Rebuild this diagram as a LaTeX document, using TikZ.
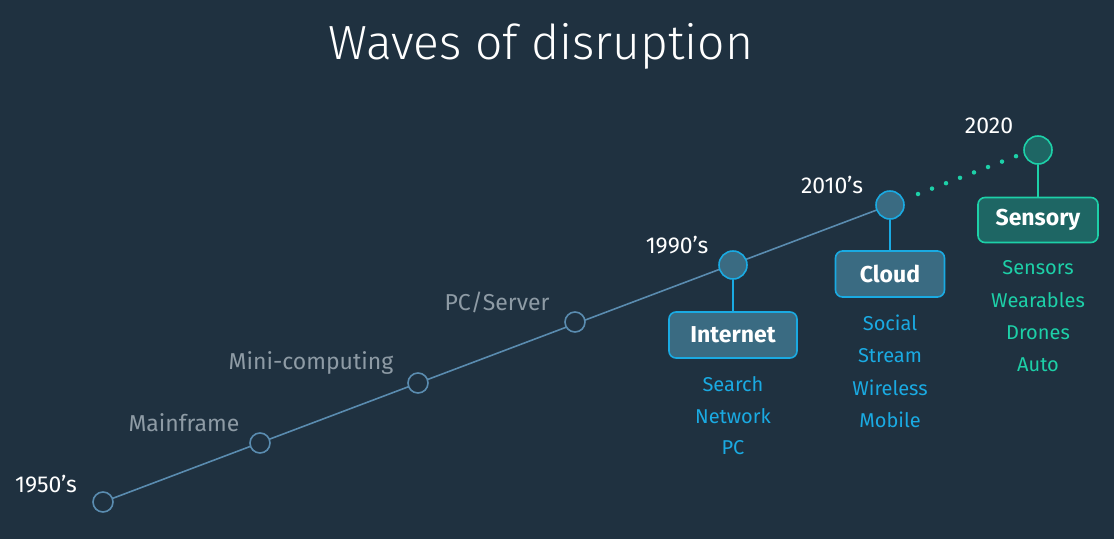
\documentclass[tikz,border=0pt]{standalone}
\usepackage{fontspec}
\setmainfont{Fira Sans}
\newfontfamily\titlefont{Fira Sans Light}
\definecolor{bg}{HTML}{1F3140}
\definecolor{linec}{HTML}{5A8CB0}
\definecolor{bluec}{HTML}{1AAAE2}
\definecolor{bluefill}{HTML}{3A6B82}
\definecolor{tealc}{HTML}{1DD0A8}
\definecolor{tealfill}{HTML}{1E6664}
\definecolor{grayt}{HTML}{8E9BA5}
\tikzset{
  every node/.style={inner sep=0pt},
  oldnode/.style={circle, draw=linec, line width=1.6pt, minimum size=20pt, fill=bg},
  bignode/.style={circle, draw=bluec, line width=1.6pt, minimum size=28pt, fill=bluefill},
  tealnode/.style={circle, draw=tealc, line width=1.6pt, minimum size=28pt, fill=tealfill},
  bluebox/.style={rounded corners=7pt, draw=bluec, line width=1.6pt, fill=bluefill, text=white, font=\fontsize{23}{26}\selectfont\bfseries, minimum height=46pt},
  tealbox/.style={rounded corners=7pt, draw=tealc, line width=1.6pt, fill=tealfill, text=white, font=\fontsize{23}{26}\selectfont\bfseries, minimum height=45pt},
  yearlbl/.style={text=white, font=\fontsize{23}{26}\selectfont},
  eralbl/.style={text=grayt, font=\fontsize{23}{26}\selectfont},
  bluelist/.style={text=bluec, font=\fontsize{20}{24}\selectfont},
  teallist/.style={text=tealc, font=\fontsize{20}{24}\selectfont},
  stem/.style={line width=1.6pt},
  dotc/.style={circle, fill=tealc, minimum size=4.5pt}
}
\begin{document}
\begin{tikzpicture}[x=1pt,y=-1pt]
\fill[bg] (0,0) rectangle (1114,539);
\useasboundingbox (0,0) rectangle (1114,539);
\node[text=white, font=\titlefont\fontsize{48}{54}\selectfont] (title) at (541,46) {Waves of disruption};
% main line
\coordinate (s) at (103,502);
\coordinate (e) at (890,205);
\draw[linec, line width=1.6pt] (s) -- (e);
\node[oldnode] (n1) at (103,502) {};
\node[oldnode] (n2) at (260,443) {};
\node[oldnode] (n3) at (418,383) {};
\node[oldnode] (n4) at (575,322) {};
\node[bignode] (n5) at (733,265) {};
\node[bignode] (n6) at (890,205) {};
\node[tealnode] (n7) at (1038,150) {};
% dots
\foreach \i in {0,...,7} {
  \node[dotc] (d\i) at ({918+14*\i},{194-5.4*\i}) {};
}
% labels
\node[yearlbl] (l1) at (46,484) {1950’s};
\node[eralbl] (l2) at (184,423) {Mainframe};
\node[eralbl] (l3) at (311,363) {Mini-computing};
\node[eralbl] (l4) at (497,302) {PC/Server};
\node[yearlbl] (l5) at (677,245) {1990’s};
\node[yearlbl] (l6) at (832,185) {2010’s};
\node[yearlbl] (l7) at (989,126) {2020};
% boxes
\node[bluebox, minimum width=128pt] (b1) at (733,335) {Internet};
\node[bluebox, minimum width=109pt] (b2) at (890,274) {Cloud};
\node[tealbox, minimum width=120pt] (b3) at (1038,220) {Sensory};
\draw[stem, bluec] (n5) -- (b1);
\draw[stem, bluec] (n6) -- (b2);
\draw[stem, tealc] (n7) -- (b3);
% lists
\node[bluelist] (i1) at (733,384) {Search};
\node[bluelist] (i2) at (733,416) {Network};
\node[bluelist] (i3) at (733,448) {PC};
\node[bluelist] (c1) at (890,323) {Social};
\node[bluelist] (c2) at (890,356) {Stream};
\node[bluelist] (c3) at (890,388) {Wireless};
\node[bluelist] (c4) at (890,420) {Mobile};
\node[teallist] (t1) at (1038,268) {Sensors};
\node[teallist] (t2) at (1038,300) {Wearables};
\node[teallist] (t3) at (1038,333) {Drones};
\node[teallist] (t4) at (1038,365) {Auto};
\end{tikzpicture}
\end{document}
